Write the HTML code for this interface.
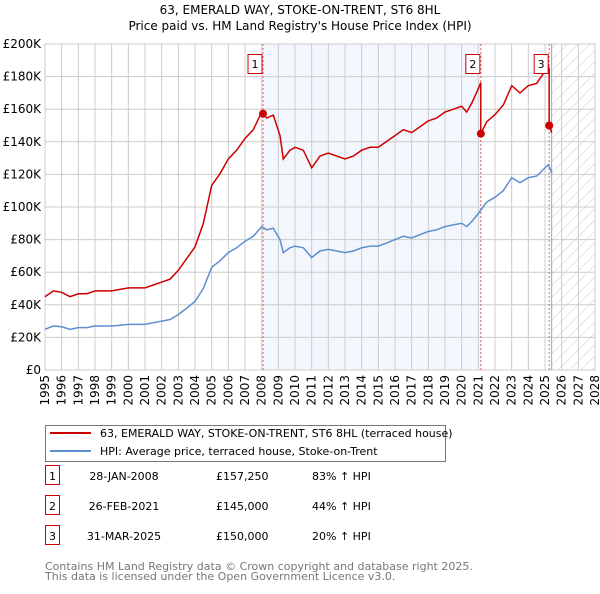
<!DOCTYPE html>
<html><head><meta charset="utf-8"><style>
body{margin:0;background:#fff;font-family:"DejaVu Sans","Liberation Sans",sans-serif;}
svg text{font-family:"DejaVu Sans","Liberation Sans",sans-serif;}
</style></head><body>
<svg width="600" height="590" xmlns="http://www.w3.org/2000/svg">
<defs><pattern id="hatch" width="8" height="8" patternUnits="userSpaceOnUse" patternTransform="rotate(45)"><line x1="0" y1="0" x2="0" y2="8" stroke="#ccc" stroke-width="1"/></pattern></defs>
<text x="300" y="14" text-anchor="middle" font-size="12">63, EMERALD WAY, STOKE-ON-TRENT, ST6 8HL</text>
<text x="300" y="30" text-anchor="middle" font-size="12">Price paid vs. HM Land Registry's House Price Index (HPI)</text>
<g id="plot"></g>
<g id="legend">
<rect x="45.5" y="425.5" width="400" height="36" fill="#fff" stroke="#777"/>
<line x1="50" y1="433" x2="91" y2="433" stroke="#cc0000" stroke-width="2"/>
<text x="100" y="437" font-size="11">63, EMERALD WAY, STOKE-ON-TRENT, ST6 8HL (terraced house)</text>
<line x1="50" y1="451" x2="91" y2="451" stroke="#5b8fcf" stroke-width="2"/>
<text x="100" y="455" font-size="11">HPI: Average price, terraced house, Stoke-on-Trent</text>
</g>
<g id="table" font-size="11"></g>
<text x="45" y="570" font-size="11" fill="#777">Contains HM Land Registry data © Crown copyright and database right 2025.</text>
<text x="45" y="580" font-size="11" fill="#777">This data is licensed under the Open Government Licence v3.0.</text>
</svg>
<script>
const hpiYears=[1995,1995.5,1996,1996.5,1997,1997.5,1998,1998.5,1999,1999.5,2000,2000.5,2001,2001.5,2002,2002.5,2003,2003.5,2004,2004.5,2005,2005.5,2006,2006.5,2007,2007.5,2008,2008.3,2008.7,2009.1,2009.3,2009.7,2010,2010.5,2011,2011.5,2012,2012.5,2013,2013.5,2014,2014.5,2015,2015.5,2016,2016.5,2017,2017.5,2018,2018.5,2019,2019.5,2020,2020.3,2020.6,2021,2021.5,2022,2022.5,2023,2023.5,2024,2024.5,2025,2025.2,2025.4];
const hpiValues=[25,27,26.5,25,26,26,27,27,27,27.5,28,28,28,29,30,31,34,38,42,50,63,67,72,75,79,82,88,86,87,80,72,75,76,75,69,73,74,73,72,73,75,76,76,78,80,82,81,83,85,86,88,89,90,88,91,96,103,106,110,118,115,118,119,124,126,121];
const saleYears=[2008.08,2021.15,2025.25];
const saleValues=[157.25,145,150];
const saleLabels=["1","2","3"];
const saleDates=["28-JAN-2008","26-FEB-2021","31-MAR-2025"];
const salePrices=["£157,250","£145,000","£150,000"];
const saleHpi=["83% ↑ HPI","44% ↑ HPI","20% ↑ HPI"];
const yTicks=[0,20,40,60,80,100,120,140,160,180,200];
const yTickLabels=["£0","£20K","£40K","£60K","£80K","£100K","£120K","£140K","£160K","£180K","£200K"];
const xTicks=[1995,1996,1997,1998,1999,2000,2001,2002,2003,2004,2005,2006,2007,2008,2009,2010,2011,2012,2013,2014,2015,2016,2017,2018,2019,2020,2021,2022,2023,2024,2025,2026,2027,2028];

const L=45,R=595,T=44,B=370,X0=1995,X1=2028;
const sx=v=>L+(v-X0)/(X1-X0)*(R-L);
const sy=v=>B-v/200*(B-T);
const NS="http://www.w3.org/2000/svg";
function mk(tag,attrs,parent){const e=document.createElementNS(NS,tag);for(const k in attrs)e.setAttribute(k,attrs[k]);parent.appendChild(e);return e;}
const g=document.getElementById('plot');
function hpiAt(y){for(let i=0;i<hpiYears.length-1;i++){if(y>=hpiYears[i]&&y<=hpiYears[i+1]){const t=(y-hpiYears[i])/(hpiYears[i+1]-hpiYears[i]);return hpiValues[i]+t*(hpiValues[i+1]-hpiValues[i]);}}return hpiValues[hpiValues.length-1];}
const lastYear=hpiYears[hpiYears.length-1];
let bg=mk('rect',{x:sx(saleYears[0]),y:T,width:sx(saleYears[1])-sx(saleYears[0]),height:B-T,fill:'#eef3fc',opacity:0.7},g);


let hz=mk('rect',{x:sx(lastYear),y:T,width:R-sx(lastYear),height:B-T,fill:'url(#hatch)'},g);


yTicks.forEach((v,i)=>{
 mk('line',{x1:L,x2:R,y1:sy(v),y2:sy(v),stroke:'#ccc'},g);
 const t=mk('text',{x:L-4,y:sy(v)+4,'text-anchor':'end','font-size':12},g);t.textContent=yTickLabels[i];
 
 
});
xTicks.forEach(v=>{
 mk('line',{x1:sx(v),x2:sx(v),y1:T,y2:B,stroke:'#ccc'},g);
 const t=mk('text',{x:0,y:0,'text-anchor':'end','font-size':12,transform:`translate(${sx(v)+4},${B+5}) rotate(-90)`},g);t.textContent=v;
 
 
});
mk('rect',{x:L,y:T,width:R-L,height:B-T,fill:'none',stroke:'#ccc'},g);
saleYears.forEach((y,i)=>{
 const l=mk('line',{x1:sx(y),x2:sx(y),y1:T,y2:B,stroke:'#e06060','stroke-dasharray':'2,2'},g);
 
 
});
mk('line',{x1:sx(lastYear),x2:sx(lastYear),y1:T,y2:B,stroke:'#8aa6cf'},g);
let hp=hpiYears.map((y,i)=>sx(y).toFixed(1)+','+sy(hpiValues[i]).toFixed(1)).join(' ');
const hl=mk('polyline',{points:hp,fill:'none',stroke:'#5b8fcf','stroke-width':1.5},g);


const segs=[[X0,saleYears[0],0],[saleYears[0],saleYears[1],0],[saleYears[1],saleYears[2],1],[saleYears[2],lastYear,2]];
let pts=[];
segs.forEach(([a,b,k])=>{
 const f=saleValues[k]/hpiAt(saleYears[k]);
 const ys=[a,...hpiYears.filter(y=>y>a&&y<b),b];
 ys.forEach(y=>pts.push(sx(y).toFixed(1)+','+sy(hpiAt(y)*f).toFixed(1)));
});
const pl=mk('polyline',{points:pts.join(' '),fill:'none',stroke:'#cc0000','stroke-width':1.5},g);


saleYears.forEach((y,i)=>{
 const c=mk('circle',{cx:sx(y),cy:sy(saleValues[i]),r:4,fill:'#cc0000'},g);
 
 
 const bx=mk('rect',{x:sx(y)-15,y:54.5,width:14,height:19,fill:'#fff',stroke:'#cc0000'},g);
 
 
 const t=mk('text',{x:sx(y)-8,y:68,'text-anchor':'middle','font-size':11},g);t.textContent=saleLabels[i];
 
 
});
const tb=document.getElementById('table');
saleYears.forEach((y,i)=>{
 const yy=477+i*30;
 const r=mk('rect',{x:45.5,y:yy-11.5,width:14,height:19,fill:'#fff',stroke:'#cc0000'},tb);
 
 
 const vals=[[52.5,saleLabels[i],'middle'],[124,saleDates[i],'middle'],[216,salePrices[i],'start'],[312,saleHpi[i],'start']];
 vals.forEach(([x,s,a])=>{const t=mk('text',{x:x,y:yy+3,'text-anchor':a},tb);t.textContent=s;
  
  });
});
</script>
</body></html>
